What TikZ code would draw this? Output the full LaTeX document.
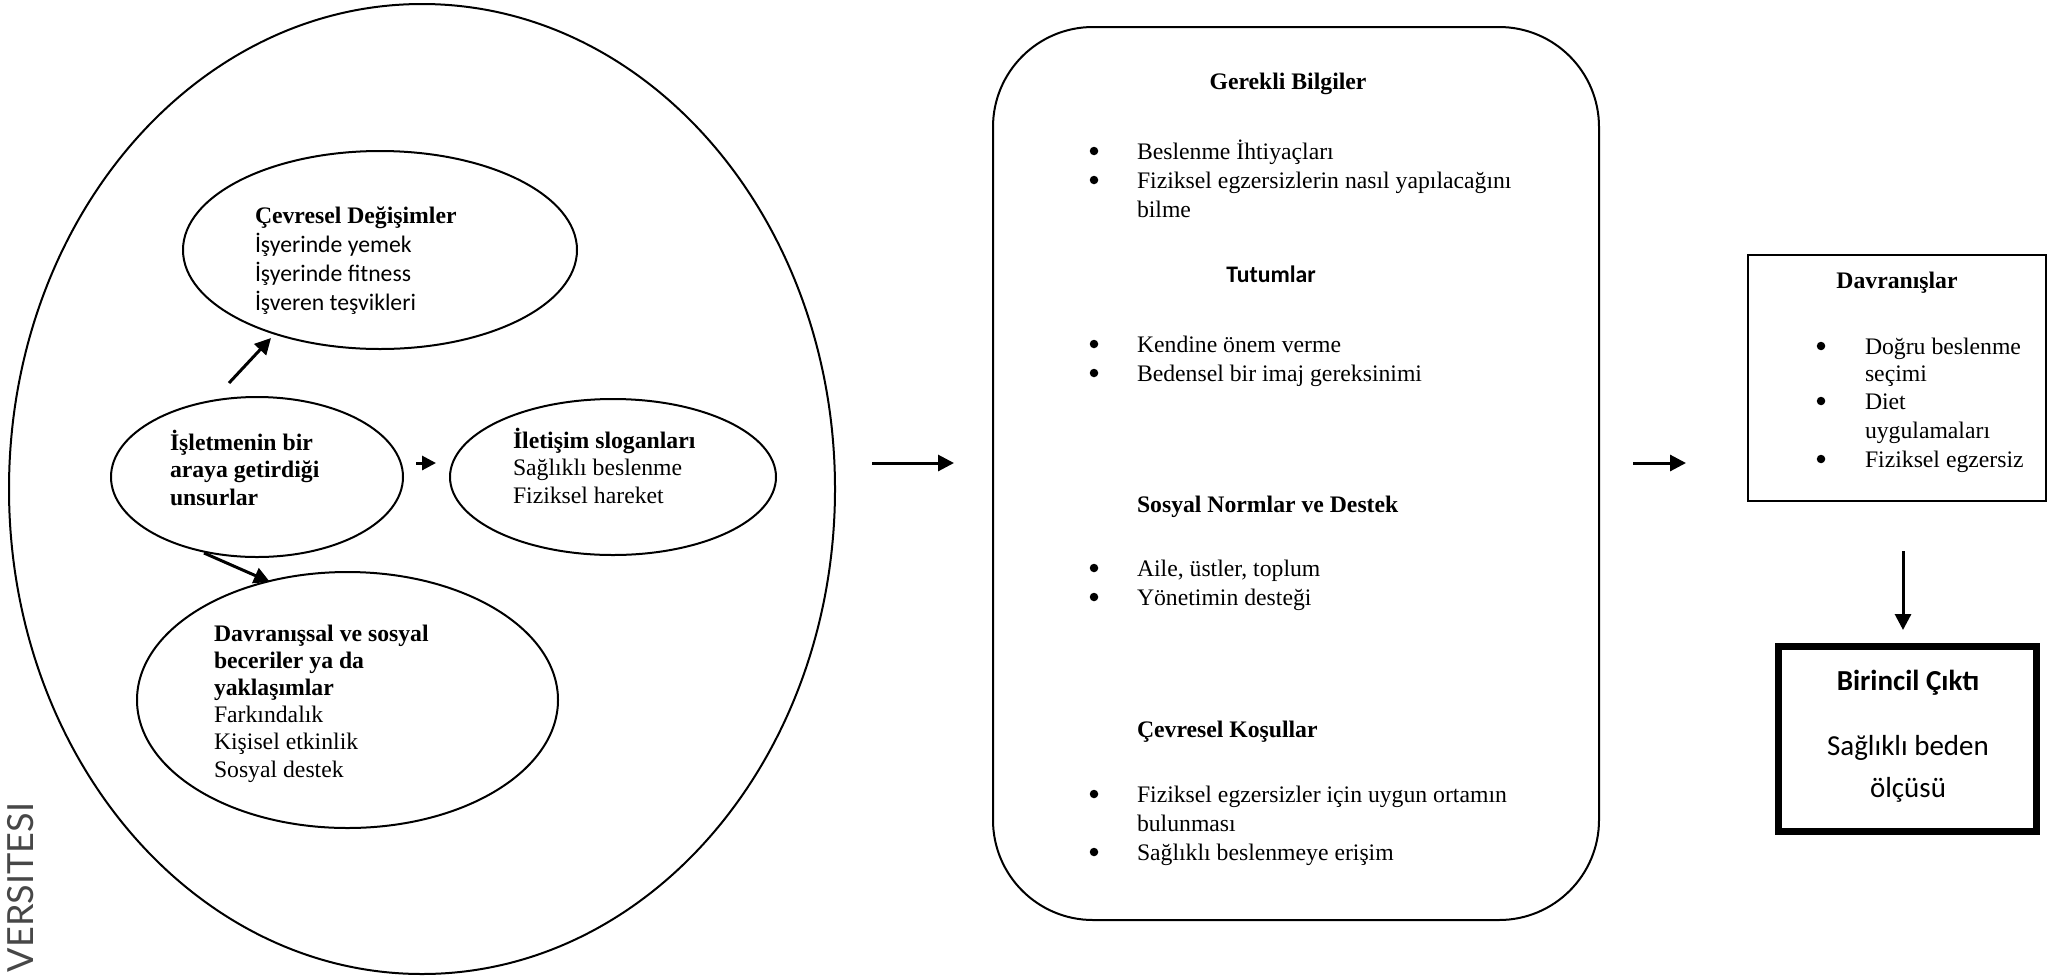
\documentclass[tikz,border=0pt]{standalone}
\usepackage{fontspec}
\setmainfont{Liberation Serif}
\newfontfamily\calibri{Carlito}
\newfontfamily\wmfont{Lato}
\usetikzlibrary{arrows.meta,shapes.geometric}

\begin{document}
\begin{tikzpicture}[x=1pt, y=-1pt,
  every node/.style={inner sep=0pt, outer sep=0pt},
  base/.style={font=\fontsize{23.7pt}{27.5pt}\selectfont},
  oval/.style={draw, ellipse, line width=2pt},
  ln/.style={base, anchor=base west},
  ctr/.style={base, anchor=base},
  bul/.style={circle, fill, minimum size=8.5pt},
  arr/.style={line width=3pt, -{Triangle[length=16pt, width=16pt]}},
  sarr/.style={line width=3pt, -{Triangle[length=14pt, width=14pt]}}
]
\useasboundingbox (0,0) rectangle (2055,978);

% ---------- left: programme elements ----------
\node[oval, minimum width=826, minimum height=970] (outer) at (422,489) {};
\node[oval, minimum width=394, minimum height=198] (cevre) at (380,250) {};
\node[oval, minimum width=292, minimum height=160] (isl) at (257,477) {};
\node[oval, minimum width=326, minimum height=156] (ilet) at (613,477) {};
\node[oval, minimum width=421, minimum height=256] (davs) at (347.5,700) {};

\node[ln] (cev0) at (255,223) {\textbf{Çevresel Değişimler}};
\node[ln] (cev1) at (255,252) {\calibri İşyerinde yemek};
\node[ln] (cev2) at (255,281) {\calibri İşyerinde fitness};
\node[ln] (cev3) at (255,310) {\calibri İşveren teşvikleri};

\node[ln] (isl0) at (170,450) {\textbf{İşletmenin bir}};
\node[ln] (isl1) at (170,477) {\textbf{araya getirdiği}};
\node[ln] (isl2) at (170,505) {\textbf{unsurlar}};

\node[ln] (ilt0) at (513,448) {\textbf{İletişim sloganları}};
\node[ln] (ilt1) at (513,475) {Sağlıklı beslenme};
\node[ln] (ilt2) at (513,503) {Fiziksel hareket};

\node[ln] (dvs0) at (214,641) {\textbf{Davranışsal ve sosyal}};
\node[ln] (dvs1) at (214,668) {\textbf{beceriler ya da}};
\node[ln] (dvs2) at (214,695) {\textbf{yaklaşımlar}};
\node[ln] (dvs3) at (214,722) {Farkındalık};
\node[ln] (dvs4) at (214,749) {Kişisel etkinlik};
\node[ln] (dvs5) at (214,777) {Sosyal destek};

\coordinate (upS) at (229,383);
\coordinate (upE) at (271,338);
\coordinate (midS) at (416,463);
\coordinate (midE) at (436,463);
\coordinate (dnS) at (204,553);
\coordinate (dnE) at (270,582);
\draw[arr] (upS) -- (upE);
\draw[sarr] (midS) -- (midE);
\draw[arr] (dnS) -- (dnE);

% ---------- middle: determinants ----------
\node[draw, line width=2pt, rounded corners=100pt, minimum width=606, minimum height=893] (bilgi) at (1296,473.5) {};

\node[ctr] (gb) at (1288,89) {\textbf{Gerekli Bilgiler}};
\node[bul] (gbb1) at (1094,151) {};
\node[ln]  (gb1)  at (1137,159) {Beslenme İhtiyaçları};
\node[bul] (gbb2) at (1094,180) {};
\node[ln]  (gb2)  at (1137,188) {Fiziksel egzersizlerin nasıl yapılacağını};
\node[ln]  (gb3)  at (1137,217) {bilme};

\node[ctr] (tt) at (1271,282) {\calibri\bfseries Tutumlar};
\node[bul] (ttb1) at (1094,344) {};
\node[ln]  (tt1)  at (1137,352) {Kendine önem verme};
\node[bul] (ttb2) at (1094,373) {};
\node[ln]  (tt2)  at (1137,381) {Bedensel bir imaj gereksinimi};

\node[ln]  (sn)   at (1137,512) {\textbf{Sosyal Normlar ve Destek}};
\node[bul] (snb1) at (1094,568) {};
\node[ln]  (sn1)  at (1137,576) {Aile, üstler, toplum};
\node[bul] (snb2) at (1094,597) {};
\node[ln]  (sn2)  at (1137,605) {Yönetimin desteği};

\node[ln]  (ck)   at (1137,737) {\textbf{Çevresel Koşullar}};
\node[bul] (ckb1) at (1094,794) {};
\node[ln]  (ck1)  at (1137,802) {Fiziksel egzersizler için uygun ortamın};
\node[ln]  (ck2)  at (1137,831) {bulunması};
\node[bul] (ckb3) at (1094,852) {};
\node[ln]  (ck3)  at (1137,860) {Sağlıklı beslenmeye erişim};

% ---------- right: behaviours and outcome ----------
\node[draw, line width=2.5pt, minimum width=298, minimum height=246] (davr) at (1897,378) {};
\node[ctr] (dv0)  at (1897,288) {\textbf{Davranışlar}};
\node[bul] (dvb1) at (1821,346) {};
\node[ln]  (dv1)  at (1865,354) {Doğru beslenme};
\node[ln]  (dv2)  at (1865,381) {seçimi};
\node[bul] (dvb2) at (1821,401) {};
\node[ln]  (dv3)  at (1865,409) {Diet};
\node[ln]  (dv4)  at (1865,438) {uygulamaları};
\node[bul] (dvb3) at (1821,459) {};
\node[ln]  (dv5)  at (1865,467) {Fiziksel egzersiz};

\node[draw, line width=7pt, minimum width=258, minimum height=185] (cikti) at (1907.5,739) {};
\node[anchor=base, font=\calibri\bfseries\fontsize{29pt}{34pt}\selectfont] (ck0) at (1908,690) {Birincil Çıktı};
\node[anchor=base, font=\calibri\fontsize{29pt}{34pt}\selectfont] (ckt1) at (1908,755) {Sağlıklı beden};
\node[anchor=base, font=\calibri\fontsize{29pt}{34pt}\selectfont] (ckt2) at (1908,797) {ölçüsü};

% ---------- connectors between the stages ----------
\coordinate (g1S) at (872,463);
\coordinate (g1E) at (954,463);
\coordinate (g2S) at (1633,463);
\coordinate (g2E) at (1686,463);
\coordinate (g3S) at (1903,551);
\coordinate (g3E) at (1903,630);
\draw[arr] (g1S) -- (g1E);
\draw[arr] (g2S) -- (g2E);
\draw[arr] (g3S) -- (g3E);

% ---------- margin label ----------
\node[rotate=90, anchor=base east, text=black!72, font=\wmfont\fontsize{36pt}{40pt}\selectfont] (wm) at (33,803) {VERSITESI};
\end{tikzpicture}
\end{document}
